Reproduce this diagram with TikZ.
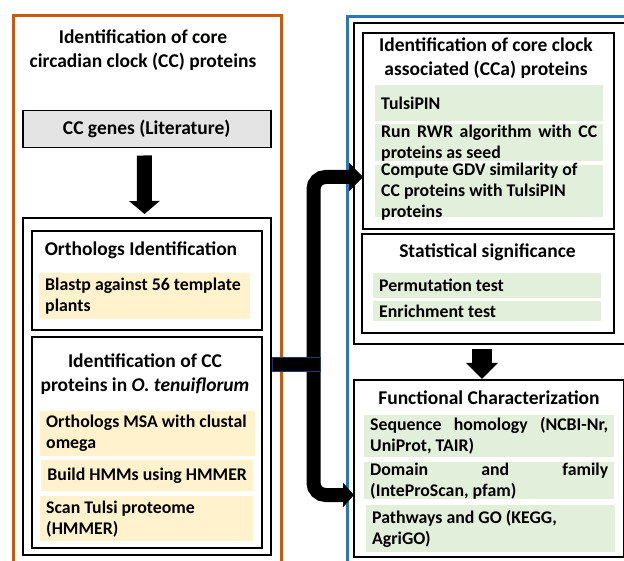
\documentclass[tikz,border=0pt]{standalone}
\usepackage{fontspec}
\setmainfont{Carlito}
\usetikzlibrary{arrows.meta,calc}
\definecolor{orng}{HTML}{C55A11}
\definecolor{bluec}{HTML}{2E75B6}
\definecolor{tanc}{HTML}{FFF2CC}
\definecolor{grnc}{HTML}{E2EFDA}
\definecolor{grayc}{HTML}{E4E4E4}
\definecolor{navyc}{HTML}{1F3864}
\newcommand\ttlfont{\fontsize{19.5}{24}\selectfont\bfseries}
\newcommand\itmfont{\fontsize{17.8}{21}\selectfont\bfseries}
\newcommand\itxt[3]{\parbox[c][#2pt][c]{\dimexpr#1pt-12pt\relax}{#3}}
\begin{document}
\begin{tikzpicture}[x=1pt,y=1pt,
  frame/.style={draw=black, line width=2pt, inner sep=0pt, anchor=north west},
  outerframe/.style={line width=3pt, inner sep=0pt, anchor=north west},
  ttl/.style={font=\ttlfont, align=center, inner sep=0pt},
  tanbox/.style={fill=tanc, inner sep=0pt, font=\itmfont, anchor=north west},
  grnbox/.style={fill=grnc, inner sep=0pt, font=\itmfont, anchor=north west},
  bigarrow/.style={draw=black, line width=#1},
]
\useasboundingbox (0,0) rectangle (624,-561);
\clip (0,0) rectangle (624,-561);

% ---------- left column ----------
\node[outerframe, draw=orng, minimum width=268pt, minimum height=600pt] (obox) at (12,-14) {};
\node[ttl] (t1) at (143,-50) {Identification of core\\circadian clock (CC) proteins};
\node[draw=black, line width=1.5pt, fill=grayc, inner sep=0pt, anchor=north west,
      minimum width=248pt, minimum height=37pt, font=\ttlfont] (ccg) at (22,-110) {CC genes (Literature)};

\node[frame, minimum width=248pt, minimum height=337pt] (lbox) at (22,-217) {};
\node[frame, minimum width=230pt, minimum height=99pt] (orth) at (31,-230) {};
\node[ttl] (torth) at (141,-250) {Orthologs Identification};
\node[tanbox, minimum width=211pt] (blast) at (39,-273)
  {\itxt{211}{46}{\raggedright Blastp against 56 template\\plants}};

\node[frame, minimum width=230pt, minimum height=211pt] (idcc) at (31,-336) {};
\node[ttl] (tidcc) at (145,-374.5) {Identification of CC\\proteins in \textit{O. tenuiflorum}};
\node[tanbox, minimum width=215pt] (msa) at (40,-411)
  {\itxt{215}{45}{\raggedright Orthologs MSA with clustal\\omega}};
\node[tanbox, minimum width=212pt] (hmm) at (41,-460)
  {\itxt{212}{31}{\centering Build HMMs using HMMER}};
\node[tanbox, minimum width=213pt] (scan) at (40,-496)
  {\itxt{213}{45}{\raggedright Scan Tulsi proteome\\(HMMER)}};

% ---------- right column ----------
\node[outerframe, draw=bluec, minimum width=300pt, minimum height=600pt] (bbox) at (346,-15) {};
\node[frame, minimum width=290pt, minimum height=321pt] (rbox) at (353,-22) {};
\node[frame, minimum width=251pt, minimum height=196pt] (cca) at (362,-32) {};
\node[ttl] (tcca) at (486,-58) {Identification of core clock\\associated (CCa) proteins};
\node[grnbox, minimum width=228pt] (tulsi) at (375,-85)
  {\itxt{228}{36}{\raggedright TulsiPIN}};
\node[grnbox, minimum width=228pt] (rwr) at (375,-124)
  {\itxt{228}{37}{Run RWR algorithm with CC\linebreak proteins as seed}};
\node[grnbox, minimum width=228pt] (gdv) at (375,-165)
  {\itxt{228}{52}{\raggedright Compute GDV similarity of\\CC proteins with TulsiPIN\\proteins}};

\node[frame, minimum width=252pt, minimum height=99pt] (stat) at (361,-233) {};
\node[ttl] (tstat) at (487.5,-252) {Statistical significance};
\node[grnbox, minimum width=228pt] (perm) at (373,-273)
  {\itxt{228}{25}{\raggedright Permutation test}};
\node[grnbox, minimum width=228pt] (enr) at (373,-301)
  {\itxt{228}{20}{\raggedright Enrichment test}};

\node[frame, minimum width=270pt, minimum height=177pt] (func) at (353,-379) {};
\node[ttl] (tfunc) at (489,-398) {Functional Characterization};
\node[grnbox, minimum width=250pt] (seq) at (364,-415)
  {\itxt{250}{42}{Sequence homology (NCBI-Nr,\linebreak UniProt, TAIR)}};
\node[grnbox, minimum width=250pt] (dom) at (364,-462)
  {\itxt{250}{37}{Domain and family\linebreak (InteProScan, pfam)}};
\node[grnbox, minimum width=249pt] (path) at (366,-505)
  {\itxt{249}{47}{\raggedright Pathways and GO (KEGG,\\AgriGO)}};

% ---------- connectors ----------
\draw[bigarrow=15pt, -{Triangle[length=13pt,width=30pt]}]
  ([xshift=-2.5pt,yshift=-7pt]ccg.south) -- ([xshift=-2.5pt,yshift=3pt]lbox.north);

\coordinate (a2) at (482,0);
\draw[bigarrow=20pt, -{Triangle[length=16pt,width=31pt]}]
  ([yshift=-4pt]rbox.south -| a2) -- (func.north -| a2);

\coordinate (sp1) at (313.5,-177);
\coordinate (sp2) at (313.5,-495);
\draw[bigarrow=14pt, rounded corners=12pt,
      {Triangle[length=14pt,width=28pt]}-{Triangle[length=11pt,width=24pt]}]
  ([xshift=1pt]cca.west |- sp1) -- (sp1) -- (sp2) -- ([xshift=1pt]func.west |- sp2);

\coordinate (hb) at (320.5,-364.5);
\draw[fill=black, draw=navyc, line width=1pt]
  ([yshift=7pt]lbox.east |- hb) rectangle ([yshift=-7pt]hb);
\end{tikzpicture}
\end{document}
